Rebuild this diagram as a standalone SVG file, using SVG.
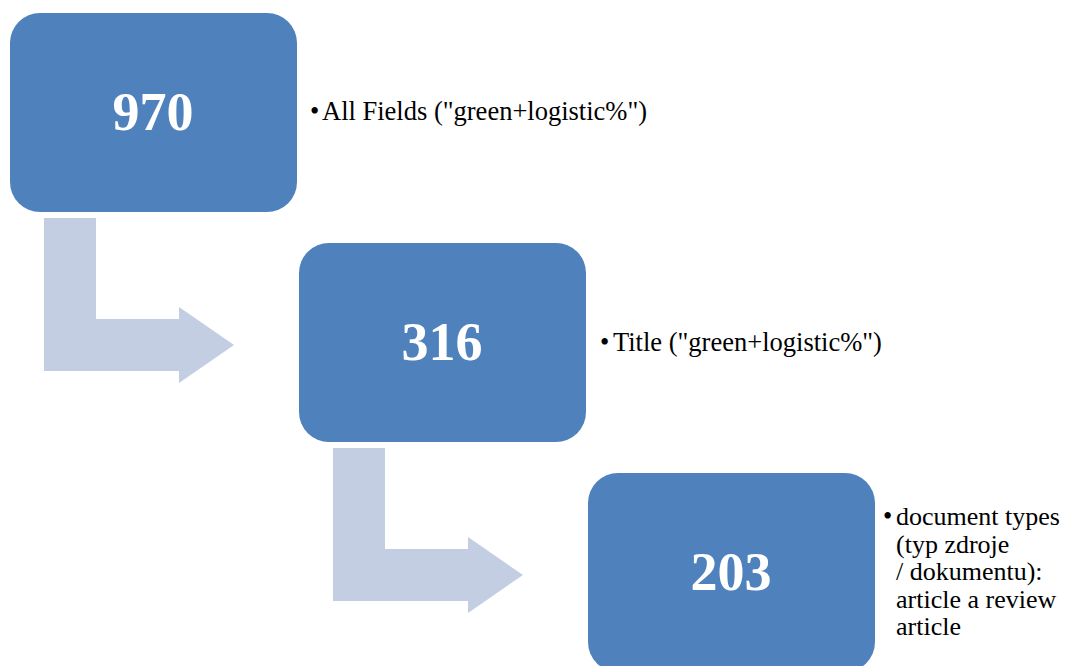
<svg xmlns="http://www.w3.org/2000/svg" width="1065" height="666" viewBox="0 0 1065 666">
<style>
.box{fill:#4F81BD;}
.num{font-family:"Liberation Serif","Times New Roman",serif;font-weight:bold;font-size:54px;fill:#fff;text-anchor:middle;}
.lbl{font-family:"Liberation Serif","Times New Roman",serif;font-size:26.5px;fill:#000;}
.lbl3{font-family:"Liberation Serif","Times New Roman",serif;font-size:26px;fill:#000;}
.arr{fill:#C3CEE2;}
</style>
<rect width="1065" height="666" fill="#fff"/>
<g id="connectors">
<path class="arr" d="M44,218 H96 V319 H179 V307 L234,345 L179,383 V371 H44 Z"/>
<path class="arr" d="M333,448 H385 V549 H468 V537 L523,575 L468,613 V601 H333 Z"/>
</g>
<g id="node1">
<rect class="box" x="10" y="13" width="287" height="199" rx="30"/>
<text class="num" x="153" y="130">970</text>
<text class="lbl" x="310" y="120">•</text>
<text class="lbl" x="322" y="120">All Fields ("green+logistic%")</text>
</g>
<g id="node2">
<rect class="box" x="299" y="243" width="287" height="199" rx="30"/>
<text class="num" x="442" y="360">316</text>
<text class="lbl" x="600" y="351">•</text>
<text class="lbl" x="613" y="351">Title ("green+logistic%")</text>
</g>
<g id="node3">
<rect class="box" x="588" y="473" width="287" height="199" rx="30"/>
<text class="num" x="731" y="590">203</text>
<text class="lbl" x="883" y="525">•</text>
<text class="lbl3"><tspan x="896" y="525">document types</tspan><tspan x="896" y="552.6">(typ zdroje</tspan><tspan x="896" y="580.2">/ dokumentu):</tspan><tspan x="896" y="607.8">article a review</tspan><tspan x="896" y="635.4">article</tspan></text>
</g>
</svg>
